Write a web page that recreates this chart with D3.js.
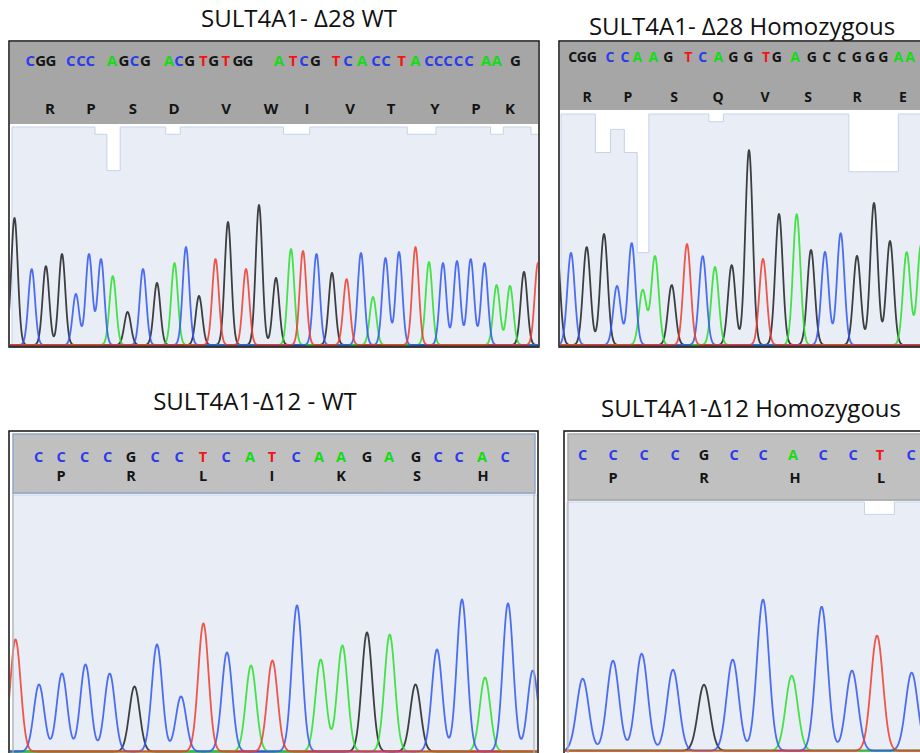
<!DOCTYPE html>
<html>
<head>
<meta charset="utf-8">
<script src="https://cdn.jsdelivr.net/npm/d3@7"></script>
<style>
  html, body { margin: 0; padding: 0; background: #fff; }
  svg { display: block; }
</style>
</head>
<body>
<div id="chart"></div>
<script>
// Sanger chromatograms, four panels. Positions are in trace scan units (offset from each panel's left edge),
// peak heights in signal units, quality on a 0-60 scale.

// ---- SULT4A1 Δ28 WT
const p1Title = "SULT4A1- Δ28 WT";
const p1Calls = "CGGCCCAGCGACGTGTGGATCGTCACCTACCCCCAAG".split("");
const p1CallPos = [21.3, 31.7, 42, 61.7, 72, 81.3, 103, 115, 125.5, 136.5, 160, 170, 180.7, 194.4, 204.8, 216.9, 229, 239,
  270, 284, 295, 306.5, 327, 339, 353, 367, 377, 392.7, 406.5, 420, 429.6, 439, 449.6, 460, 477, 487.6, 506.5];
const p1Aminos = "RPSDVWIVTYPK".split("");
const p1AminoPos = [41, 82, 124, 165, 217, 262, 298, 341, 382, 426, 467, 501];
const p1PeakBase = "GCGGCCCAGCGACGTGTGGATCGTCACCTACCCCAAGT".split("");
const p1PeakPos = [5.5, 22.7, 36.9, 53, 66.9, 80, 92, 103.8, 118.6, 134, 148, 165.5, 177, 190, 206.5, 219, 237, 250, 267, 282,
  294, 307.5, 323, 337.6, 352, 364, 376.5, 390, 406.5, 420, 434, 448, 461.7, 475.5, 487.6, 501, 515, 529];
const p1PeakHt = [127, 76, 79, 91, 51, 91, 86, 69, 33, 76, 62, 82, 98, 49, 86, 123, 76, 140, 67, 96,
  94, 91, 72, 66, 92, 48, 87, 93, 98, 83, 82, 84, 86, 82, 60, 59, 73, 82];
const p1Qual = [60, 60, 60, 60, 60, 60, 58, 48, 60, 60, 60, 58, 60, 60, 60, 60, 60, 60, 60, 58,
  58, 60, 60, 60, 60, 60, 60, 60, 58, 58, 60, 60, 60, 60, 58, 60, 60, 58];

// ---- SULT4A1 Δ28 homozygous (lower-case call = shown uncoloured)
const p2Title = "SULT4A1- Δ28 Homozygous";
const p2Calls = "cGGCCAAGTCAGGTGAGccGGGAA".split("");
const p2CallPos = [13.7, 22.7, 32.7, 51, 66, 78.3, 94.3, 109.3, 129.3, 143.7, 159.3, 174.3, 189.3, 207, 217.7, 236,
  252.7, 267.7, 282.7, 297.7, 311, 324.3, 339.3, 351];
const p2Aminos = "RPSQVSRE".split("");
const p2AminoPos = [28, 69, 115, 159, 206, 249, 298, 344];
const p2PeakBase = "GCGGCCAAGTCAGGTGAGCCGGGAA".split("");
const p2PeakPos = [-3, 12, 27.7, 45, 58, 72.7, 83.7, 96, 112.7, 128, 143.7, 156, 172.7, 190, 204, 220, 237.7, 252,
  266, 281.7, 298, 315, 331, 347.7, 362];
const p2PeakHt = [110, 92, 98, 111, 59, 102, 55, 89, 60, 101, 89, 78, 80, 195, 86, 131, 131, 95, 93, 112, 89, 142, 104, 93, 100];
const p2Qual = [60, 60, 60, 50, 56, 50, 24, 60, 60, 60, 60, 58, 60, 60, 60, 60, 60, 60, 60, 60, 45, 45, 45, 60, 60];

// ---- SULT4A1 Δ12 WT
const p3Title = "SULT4A1-Δ12 - WT";
const p3Calls = "CCCCGCCTCATCAAGAGCCAC".split("");
const p3CallPos = [29.6, 52, 75.5, 98.6, 122, 146, 170, 194, 217, 241, 263, 287, 310, 332, 358, 380, 407, 429, 450, 473, 496];
const p3Aminos = "PRLIKSH".split("");
const p3AminoPos = [52, 122, 194, 263, 332, 408, 474];
const p3PeakBase = "TCCCCGCCTCATCAAGAGCCACC".split("");
const p3PeakPos = [6.5, 30, 53, 76.5, 100.7, 125.5, 148, 172, 194.4, 218, 242, 263.4, 288, 311.7, 333.4, 358, 380.7,
  406.5, 428, 453, 476, 499, 523.8];
const p3PeakHt = [112, 67, 78, 87, 78, 65, 107, 55, 128, 99, 86, 91, 146, 92, 106, 119, 117, 67, 102, 152, 74, 148, 81];
const p3Qual = [60, 60, 60, 60, 60, 60, 60, 60, 60, 60, 60, 60, 60, 60, 60, 60, 60, 60, 60, 60, 60, 60, 60];

// ---- SULT4A1 Δ12 homozygous
const p4Title = "SULT4A1-Δ12 Homozygous";
const p4Calls = "CCCCGCCACCTC".split("");
const p4CallPos = [18.7, 49, 80, 111, 140, 170, 199, 229, 259, 289, 316, 347];
const p4Aminos = "PRHL".split("");
const p4AminoPos = [49, 140, 231, 317];
const p4PeakBase = "CCCCGCCACCTC".split("");
const p4PeakPos = [18.7, 49, 77.7, 109, 140, 168.7, 199, 227.7, 257.7, 288, 313, 347.7];
const p4PeakHt = [72, 90, 97, 81, 66, 91, 151, 75, 144, 80, 115, 78];
const p4Qual = [60, 60, 60, 60, 60, 60, 60, 60, 60, 60, 57, 60];

const traceColour = { G: "#1e1e1e", A: "#25e025", C: "#3056f2", T: "#f03a2a" };
const callColour = { G: "#141414", A: "#14dc14", C: "#2a3ceb", T: "#f51414" };
const titleFont = "'Open Sans', Lato, sans-serif";
const letterFont = "'Open Sans', Lato, sans-serif";

const panels = [
  { title: p1Title, calls: p1Calls, callPos: p1CallPos, aminos: p1Aminos, aminoPos: p1AminoPos,
    base: p1PeakBase, pos: p1PeakPos, ht: p1PeakHt, qual: p1Qual,
    left: 9, top: 41, width: 530, height: 306, headBottom: 124, qualTop: 127, baseline: 345, qStart: 3,
    callY: 66, aminoY: 114, titleX: 299, titleY: 27, headFill: "#a6a6a6", sigma: 3.3, fontSize: 15, style: "dark" },
  { title: p2Title, calls: p2Calls, callPos: p2CallPos, aminos: p2Aminos, aminoPos: p2AminoPos,
    base: p2PeakBase, pos: p2PeakPos, ht: p2PeakHt, qual: p2Qual,
    left: 559, top: 41, width: 380, height: 306, headBottom: 110, qualTop: 114, baseline: 345, qStart: 2,
    callY: 62, aminoY: 102, titleX: 742, titleY: 35, headFill: "#a6a6a6", sigma: 3.7, fontSize: 14, style: "dark" },
  { title: p3Title, calls: p3Calls, callPos: p3CallPos, aminos: p3Aminos, aminoPos: p3AminoPos,
    base: p3PeakBase, pos: p3PeakPos, ht: p3PeakHt, qual: p3Qual,
    left: 9, top: 431, width: 529, height: 340, headBottom: 493, qualTop: 495, baseline: 751.5, qStart: 4,
    callY: 462, aminoY: 481, titleX: 255, titleY: 410, headFill: "#c0c0c0", sigma: 5.2, fontSize: 14.5, style: "light" },
  { title: p4Title, calls: p4Calls, callPos: p4CallPos, aminos: p4Aminos, aminoPos: p4AminoPos,
    base: p4PeakBase, pos: p4PeakPos, ht: p4PeakHt, qual: p4Qual,
    left: 564, top: 431, width: 370, height: 340, headBottom: 500, qualTop: 502, baseline: 750.7, qStart: 3,
    callY: 460, aminoY: 483, titleX: 751, titleY: 417, headFill: "#c0c0c0", sigma: 6, fontSize: 14.5, style: "light" }
];

const svg = d3.select("#chart").append("svg")
  .attr("width", 920)
  .attr("height", 753);

const defs = svg.append("defs");

panels.forEach((p, i) => {
  const g = svg.append("g");
  const right = p.left + p.width;

  // scales: scan position -> px, signal -> px, quality -> px
  const x = d3.scaleLinear().domain([0, p.width]).range([p.left, right]);
  const y = d3.scaleLinear().domain([0, p.baseline - p.qualTop]).range([p.baseline, p.qualTop]);
  const qy = d3.scaleLinear().domain([0, 60]).range([p.baseline, p.qualTop]);

  // title
  g.append("text")
    .attr("x", p.titleX)
    .attr("y", p.titleY)
    .attr("text-anchor", "middle")
    .attr("font-family", titleFont)
    .attr("font-size", 24)
    .attr("fill", "#111")
    .text(p.title);

  // white panel
  g.append("rect")
    .attr("x", p.left).attr("y", p.top)
    .attr("width", p.width).attr("height", p.height)
    .attr("fill", "#fff");

  // clip for plot area
  const clipId = "plot-clip-" + i;
  defs.append("clipPath").attr("id", clipId)
    .append("rect")
    .attr("x", p.left + 1).attr("y", p.headBottom)
    .attr("width", p.width - 2).attr("height", p.baseline - p.headBottom + 1.5);

  const plot = g.append("g").attr("clip-path", `url(#${clipId})`);

  // quality bars as a stepped area, one step per peak
  const mids = p.pos.map((d, k) => k === 0 ? p.qStart : (p.pos[k - 1] + d) / 2);
  const steps = p.qual.map((q, k) => ({ s: Math.max(mids[k], p.qStart), q }));
  steps.push({ s: p.width + 5, q: p.qual[p.qual.length - 1] });
  plot.append("path")
    .datum(steps)
    .attr("fill", "#e8edf6")
    .attr("stroke", "#c6d3ea")
    .attr("stroke-width", 1)
    .attr("d", d3.area()
      .curve(d3.curveStepAfter)
      .x(d => x(d.s))
      .y0(p.baseline + 3)
      .y1(d => qy(d.q)));

  // traces: each channel is the sum of its peaks
  const samples = d3.range(-10, p.width + 10, 0.5);
  ["G", "A", "C", "T"].forEach(ch => {
    const idx = p.base.map((b, k) => b === ch ? k : -1).filter(k => k >= 0);
    const trace = samples.map(s => {
      let v = 0;
      idx.forEach(k => {
        const dx = s - p.pos[k];
        v += p.ht[k] * Math.exp(-(dx * dx) / (2 * p.sigma * p.sigma));
      });
      return [s, v];
    });
    plot.append("path")
      .datum(trace)
      .attr("fill", "none")
      .attr("stroke", traceColour[ch])
      .attr("stroke-opacity", 0.85)
      .attr("stroke-width", 1.8)
      .attr("stroke-linejoin", "round")
      .attr("d", d3.line()
        .curve(d3.curveMonotoneX)
        .x(d => x(d[0]))
        .y(d => y(d[1])));
  });

  // header with base calls and amino acids
  if (p.style === "dark") {
    g.append("rect")
      .attr("x", p.left + 1).attr("y", p.top + 1)
      .attr("width", p.width - 2).attr("height", p.headBottom - p.top - 1)
      .attr("fill", p.headFill);
  } else {
    g.append("rect")
      .attr("x", p.left + 4).attr("y", p.headBottom)
      .attr("width", p.width - 8).attr("height", p.baseline - p.headBottom + 10)
      .attr("fill", "none")
      .attr("stroke", "#b4b4b4")
      .attr("stroke-width", 1.2);
    g.append("rect")
      .attr("x", p.left + 4).attr("y", p.top + 3)
      .attr("width", p.width - 7).attr("height", p.headBottom - p.top - 3)
      .attr("fill", p.headFill)
      .attr("stroke", i === 2 ? "#8ea8ca" : "#a9a9a9")
      .attr("stroke-width", 1.5);
  }

  g.append("g").selectAll("text")
    .data(p.calls)
    .join("text")
    .attr("x", (d, k) => x(p.callPos[k]))
    .attr("y", p.callY)
    .attr("text-anchor", "middle")
    .attr("font-family", letterFont)
    .attr("font-weight", 700)
    .attr("font-size", p.fontSize)
    .attr("fill", d => d === d.toLowerCase() ? "#141414" : callColour[d])
    .text(d => d.toUpperCase());

  g.append("g").selectAll("text")
    .data(p.aminos)
    .join("text")
    .attr("x", (d, k) => x(p.aminoPos[k]))
    .attr("y", p.aminoY)
    .attr("text-anchor", "middle")
    .attr("font-family", letterFont)
    .attr("font-weight", 700)
    .attr("font-size", p.fontSize)
    .attr("fill", "#141414")
    .text(d => d);

  // outer frame
  g.append("rect")
    .attr("x", p.left).attr("y", p.top)
    .attr("width", p.width).attr("height", p.height)
    .attr("fill", "none")
    .attr("stroke", "#111")
    .attr("stroke-width", 1.5);
  if (p.style === "dark") {
    g.append("line")
      .attr("x1", p.left).attr("x2", right)
      .attr("y1", p.top + p.height - 0.5).attr("y2", p.top + p.height - 0.5)
      .attr("stroke", "#333")
      .attr("stroke-width", 2);
  }
});
</script>
</body>
</html>
